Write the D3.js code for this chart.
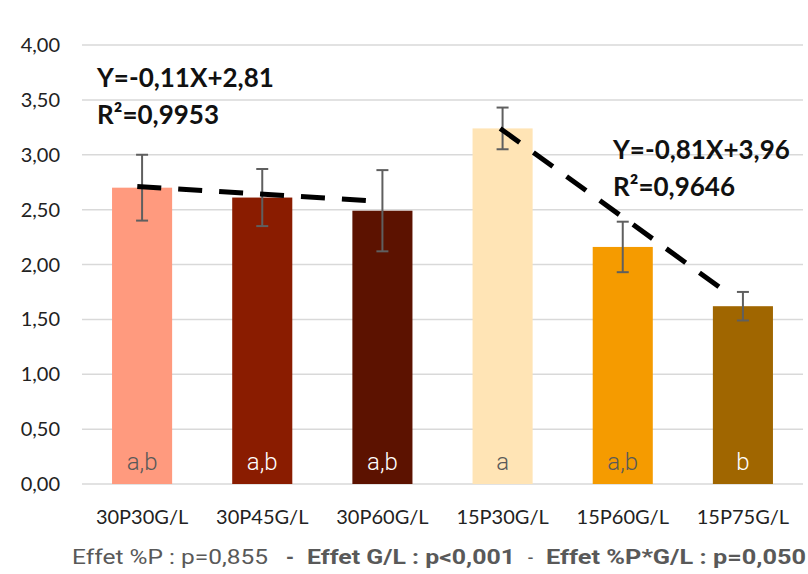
<!DOCTYPE html>
<html>
<head>
<meta charset="utf-8">
<script src="https://cdn.jsdelivr.net/npm/d3@7"></script>
<style>
  html, body { margin: 0; padding: 0; background: #fff; }
  svg { display: block; }
</style>
</head>
<body>
<svg id="chart" width="808" height="574"></svg>
<script>
// ---- data ----
const categories = ["30P30G/L", "30P45G/L", "30P60G/L", "15P30G/L", "15P60G/L", "15P75G/L"];
const values     = [2.70, 2.61, 2.49, 3.24, 2.16, 1.62];
const errors     = [0.30, 0.26, 0.37, 0.19, 0.23, 0.13];
const letters    = ["a,b", "a,b", "a,b", "a", "a,b", "b"];
const barColors  = ["#FF9A7E", "#8A1C00", "#5C1200", "#FFE4B5", "#F59B00", "#A06600"];
const letterColors = ["#595959", "#ffffff", "#ffffff", "#595959", "#595959", "#ffffff"];
const yTicks     = [0, 0.5, 1, 1.5, 2, 2.5, 3, 3.5, 4];
// trend lines: [category index, value] at start and end
const trend1 = [[-0.04, 2.71], [1.90, 2.58]];
const trend2 = [[2.98, 3.24], [4.86, 1.75]];
const eq1 = ["Y=-0,11X+2,81", "R²=0,9953"];
const eq2 = ["Y=-0,81X+3,96", "R²=0,9646"];
const footer = [
  {text: "Effet %P : p=0,855", bold: false},
  {text: "-", bold: true},
  {text: "Effet G/L : p<0,001", bold: true},
  {text: "-", bold: false},
  {text: "Effet %P*G/L : p=0,050", bold: true}
];

// ---- layout ----
const svg = d3.select("#chart");
const pLeft = 82, pRight = 803, pTop = 45, pBottom = 484;
const font = "Lato, 'Open Sans', sans-serif";

const x = d3.scaleBand().domain(categories).range([pLeft, pRight])
  .paddingInner(0.5).paddingOuter(0.25);
const y = d3.scaleLinear().domain([0, 4]).range([pBottom, pTop]);
const bw = x.bandwidth();
const xi = d3.scaleLinear().domain([0, 5])
  .range([x(categories[0]) + bw / 2, x(categories[5]) + bw / 2]);

// gridlines
svg.append("g").selectAll("line").data(yTicks).join("line")
  .attr("x1", pLeft).attr("x2", pRight)
  .attr("y1", d => y(d)).attr("y2", d => y(d))
  .attr("stroke", "#d9d9d9").attr("stroke-width", 1.5);

// y axis labels
const fmt = d => d3.format(".2f")(d).replace(".", ",");
svg.append("g").selectAll("text").data(yTicks).join("text")
  .attr("x", 60).attr("y", d => y(d) + 7)
  .attr("text-anchor", "end")
  .attr("font-family", font).attr("font-size", 20).attr("fill", "#222")
  .text(fmt);

// bars
svg.append("g").selectAll("rect").data(values).join("rect")
  .attr("x", (d, i) => x(categories[i]))
  .attr("width", bw)
  .attr("y", d => y(d))
  .attr("height", d => y(0) - y(d))
  .attr("fill", (d, i) => barColors[i]);

// letters inside bars
svg.append("g").selectAll("text").data(letters).join("text")
  .attr("x", (d, i) => x(categories[i]) + bw / 2)
  .attr("y", y(0) - 14)
  .attr("text-anchor", "middle")
  .attr("font-family", "Roboto, sans-serif").attr("font-weight", 300)
  .attr("font-size", 24)
  .attr("fill", (d, i) => letterColors[i])
  .text(d => d);

// error bars
const eg = svg.append("g").attr("stroke", "#5f5f5f").attr("stroke-width", 2);
values.forEach((v, i) => {
  const cx = x(categories[i]) + bw / 2;
  const hi = y(v + errors[i]), lo = y(v - errors[i]);
  eg.append("line").attr("x1", cx).attr("x2", cx).attr("y1", hi).attr("y2", lo);
  eg.append("line").attr("x1", cx - 6).attr("x2", cx + 6).attr("y1", hi).attr("y2", hi);
  eg.append("line").attr("x1", cx - 6).attr("x2", cx + 6).attr("y1", lo).attr("y2", lo);
});

// trend lines
const line = d3.line().x(d => xi(d[0])).y(d => y(d[1]));
[trend1, trend2].forEach(t => {
  svg.append("path").attr("d", line(t))
    .attr("fill", "none").attr("stroke", "#000")
    .attr("stroke-width", 5).attr("stroke-dasharray", "24,17");
});

// equations
function eq(lines, x0, y0) {
  lines.forEach((s, k) => {
    svg.append("text").attr("x", x0).attr("y", y0 + k * 37)
      .attr("font-family", font).attr("font-weight", 700)
      .attr("font-size", 26).attr("fill", "#111").text(s);
  });
}
eq(eq1, 97, 87);
eq(eq2, 613, 159);

// category labels
svg.append("g").selectAll("text").data(categories).join("text")
  .attr("x", d => x(d) + bw / 2).attr("y", 524)
  .attr("text-anchor", "middle")
  .attr("font-family", font).attr("font-size", 20).attr("fill", "#222")
  .text(d => d);

// footer
const fpos = [[72, 196], [286, 8], [307, 208], [528, 5], [546, 260]];
footer.forEach((f, i) => {
  svg.append("text").attr("x", fpos[i][0]).attr("y", 564)
    .attr("font-family", "Roboto, sans-serif")
    .attr("font-weight", f.bold ? 700 : 400)
    .attr("font-size", 21).attr("fill", "#595959")
    .attr("textLength", fpos[i][1]).attr("lengthAdjust", "spacingAndGlyphs")
    .text(f.text);
});
</script>
</body>
</html>
